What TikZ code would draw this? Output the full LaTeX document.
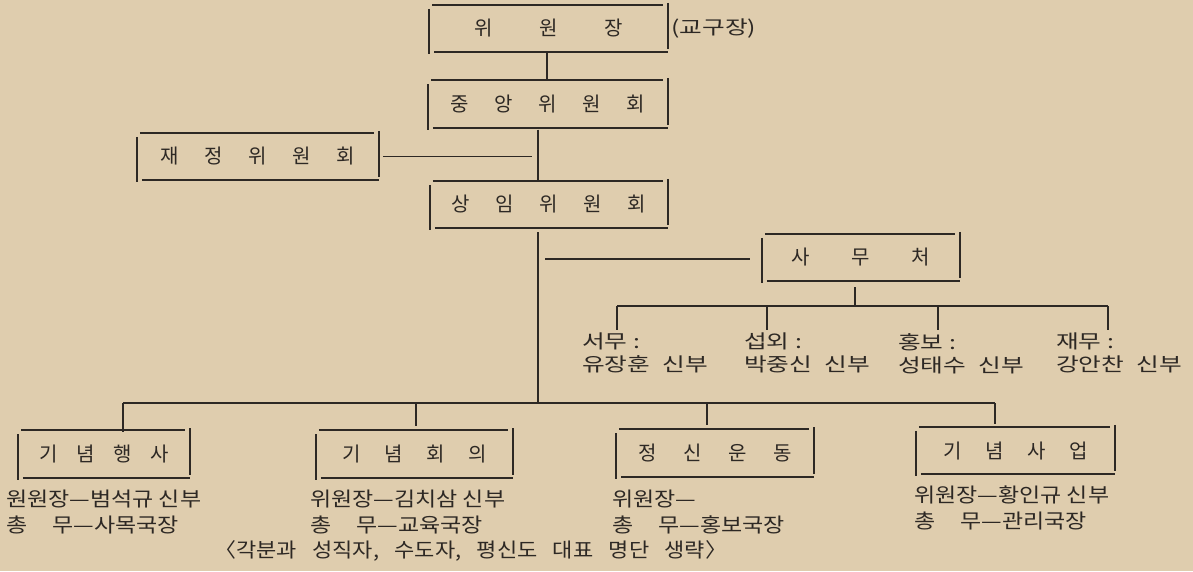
\documentclass[tikz,border=0pt]{standalone}
\usepackage{fontspec}
\setmainfont{Noto Sans CJK KR}
\definecolor{paper}{RGB}{223,205,174}
\definecolor{inkc}{RGB}{45,40,36}
\newcommand{\ch}[2]{\makebox[#1]{#2}}
\newcommand{\wxa}[1]{\scalebox{1.3}[1]{#1}}
\newcommand{\wxb}[1]{\scalebox{1.15}[1]{#1}}
\newcommand{\wxc}[1]{\scalebox{1.1}[1]{#1}}
\begin{document}
\begin{tikzpicture}[x=1pt,y=-1pt,
  ln/.style={line width=1.7pt, draw=inkc},
  orgbox/.style={draw=none, minimum width=#1, minimum height=47pt, inner sep=0pt, text=inkc, font=\fontsize{20}{24}\selectfont},
  lbl/.style={anchor=north west, inner sep=0pt, align=left, text=inkc, font=\fontsize{19}{23}\selectfont},
  lbl2/.style={anchor=north west, inner sep=0pt, align=left, text=inkc, font=\fontsize{20}{26}\selectfont}]
\fill[paper] (0,0) rectangle (1193,571);
\useasboundingbox (0,0) rectangle (1193,571);
\newcommand{\bbox}[1]{%
  \draw[ln] ([xshift=3pt]#1.north west) -- ([xshift=-5pt]#1.north east);
  \draw[ln] ([xshift=5pt]#1.south west) -- (#1.south east);
  \draw[ln] ([yshift=-4pt]#1.north west) -- ([yshift=-2pt]#1.south west);
  \draw[ln] ([yshift=2pt]#1.north east) -- ([yshift=3pt]#1.south east);}
% boxes
\node[orgbox=238pt] (chair) at (548.5,28.5) {\ch{65pt}{위}\ch{65pt}{원}\ch{65pt}{장}};
\node[orgbox=240pt] (central) at (548,104) {\ch{44pt}{중}\ch{44pt}{앙}\ch{44pt}{위}\ch{44pt}{원}\ch{44pt}{회}};
\node[orgbox=242pt] (finance) at (258,156.5) {\ch{44pt}{재}\ch{44pt}{정}\ch{44pt}{위}\ch{44pt}{원}\ch{44pt}{회}};
\node[orgbox=238pt] (standing) at (549,204.5) {\ch{44pt}{상}\ch{44pt}{임}\ch{44pt}{위}\ch{44pt}{원}\ch{44pt}{회}};
\node[orgbox=198pt] (office) at (861,257.5) {\ch{60pt}{사}\ch{60pt}{무}\ch{60pt}{처}};
\node[orgbox=172pt] (b1) at (104,454) {\ch{37pt}{기}\ch{37pt}{념}\ch{37pt}{행}\ch{37pt}{사}};
\node[orgbox=197pt] (b2) at (414.5,454) {\ch{42pt}{기}\ch{42pt}{념}\ch{42pt}{회}\ch{42pt}{의}};
\node[orgbox=197pt] (b3) at (715,453) {\ch{45pt}{정}\ch{45pt}{신}\ch{45pt}{운}\ch{45pt}{동}};
\node[orgbox=199pt] (b4) at (1015.5,450.5) {\ch{42pt}{기}\ch{42pt}{념}\ch{42pt}{사}\ch{42pt}{업}};
\foreach \b in {chair,central,finance,standing,office,b1,b2,b3,b4} {\bbox{\b}}
\node[anchor=west, inner sep=0pt, text=inkc, font=\fontsize{19}{23}\selectfont] (dio) at (671,29) {\wxa{(교구장)}};
% coordinates
\coordinate (trunkB) at (538,403);
\coordinate (busL) at (123,403);
\coordinate (busR) at (995,403);
\coordinate (obL) at (617,306);
\coordinate (obR) at (1108,306);
% connectors top
\draw[ln] ([xshift=-1.5pt]chair.south) -- ([xshift=-1.5pt]chair.south |- central.north);
\draw[ln] ([yshift=-2pt]central.south -| trunkB) -- (standing.north -| trunkB);
\draw[ln, shorten <=4pt] (finance.east) -- ([xshift=-6pt]finance.east -| trunkB);
\draw[ln] ([yshift=-4pt]standing.south -| trunkB) -- (trunkB);
\draw[ln, shorten <=7pt, shorten >=12pt] ([yshift=-1.5pt]office.west -| trunkB) -- ([yshift=-1.5pt]office.west);
% office bus
\draw[ln] ([xshift=-6pt,yshift=-6pt]office.south) -- ([xshift=-6pt]office.south |- obL);
\draw[ln] (obL) -- (obR);
\coordinate (t1) at (617,306); \coordinate (t2) at (767,306);
\coordinate (t3) at (938,306); \coordinate (t4) at (1108,306);
\foreach \t in {t1,t2,t3,t4} {\draw[ln] (\t) -- ([yshift=-24pt]\t);}
\node[lbl] (l1) at (582,333) {\wxa{서무 :}\\\wxa{유장훈\hspace{0.5em}신부}};
\node[lbl] (l2) at (744,333) {\wxa{섭외 :}\\\wxa{박중신\hspace{0.5em}신부}};
\node[lbl] (l3) at (898,333) {\wxa{홍보 :}\\\wxa{성태수\hspace{0.5em}신부}};
\node[lbl] (l4) at (1056,333) {\wxa{재무 :}\\\wxa{강안찬\hspace{0.5em}신부}};
% bottom bus
\draw[ln] (busL) -- (busR);
\coordinate (k1) at (123,403); \coordinate (k2) at (416,403);
\coordinate (k3) at (707,403); \coordinate (k4) at (995,403);
\draw[ln] (k1) -- ([yshift=-2pt]k1 |- b1.north);
\draw[ln] (k2) -- ([yshift=4pt]k2 |- b2.north);
\draw[ln] (k3) -- ([yshift=4pt]k3 |- b3.north);
\draw[ln] (k4) -- ([yshift=3pt]k4 |- b4.north);
% bottom labels
\node[lbl2] (d1) at (6,490) {\wxb{원원장—범석규 신부}\\\wxb{총\hspace{1.1em}무—사목국장}};
\node[lbl2] (d2) at (310,490) {\wxb{위원장—김치삼 신부}\\\wxb{총\hspace{1.1em}무—교육국장}};
\node[lbl2] (d3) at (612,490) {\wxb{위원장—}\\\wxb{총\hspace{1.1em}무—홍보국장}};
\node[lbl2] (d4) at (914,486) {\wxb{위원장—황인규 신부}\\\wxb{총\hspace{1.1em}무—관리국장}};
\node[anchor=west, inner sep=0pt, text=inkc, font=\fontsize{20}{24}\selectfont] (foot) at (214,551) {\wxc{〈각분과\hspace{0.7em}성직자,\hspace{0.7em}수도자,\hspace{0.7em}평신도\hspace{0.7em}대표\hspace{0.7em}명단\hspace{0.7em}생략〉}};
\end{tikzpicture}
\end{document}
